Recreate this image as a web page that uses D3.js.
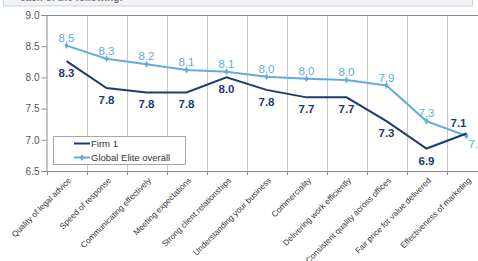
<!DOCTYPE html>
<html><head><meta charset="utf-8">
<script src="https://cdn.jsdelivr.net/npm/d3@7"></script>
<style>body{margin:0;background:#fff;}svg{display:block;font-family:"Liberation Sans",Arial,sans-serif;}</style>
</head><body><svg id="c" width="478" height="261"></svg>
<script>
const categories = ["Quality of legal advice","Speed of response","Communicating effectively","Meeting expectations","Strong client relationships","Understanding your business","Commerciality","Delivering work efficiently","Consistent quality across offices","Fair price for value delivered","Effectiveness of marketing"];
const firm1 = [8.26,7.83,7.76,7.76,8.0,7.8,7.68,7.68,7.3,6.86,7.1];
const globalElite = [8.51,8.3,8.21,8.12,8.09,8.01,7.98,7.96,7.87,7.3,7.06];
const yTicks = [6.5,7.0,7.5,8.0,8.5,9.0];
const seriesNames = ["Firm 1","Global Elite overall"];
const title = "each of the following:";

const svg = d3.select("#c");
const m = {l:46.5, t:15, b:171};
const x = d3.scaleBand().domain(categories).range([m.l, m.l + 40*categories.length]);
const y = d3.scaleLinear().domain([6.5, 9.0]).range([m.b, m.t]);
const fmt = d3.format(".1f");
const cFirm = "#1F3A6E", cGlob = "#64AADC";

// top box
svg.append("rect").attr("x",3.5).attr("y",-10).attr("width",469).attr("height",16)
  .attr("fill","#F2F2F2").attr("stroke","#BDD7EE").attr("stroke-width",1);
svg.append("text").attr("x",20).attr("y",1).attr("font-size",10).attr("font-weight","bold").attr("fill","#777").text(title);

// vertical gridlines
svg.append("g").selectAll("line").data(categories.slice(1)).join("line")
  .attr("x1",d=>Math.round(x(d))+0.5).attr("x2",d=>Math.round(x(d))+0.5)
  .attr("y1",y(9)).attr("y2",y(6.5)).attr("stroke","#C8C8C8").attr("stroke-width",1);
// top border
svg.append("line").attr("x1",m.l).attr("x2",478).attr("y1",y(9)+0.5).attr("y2",y(9)+0.5).attr("stroke","#8C8C8C");

// y axis
const ya = svg.append("g").attr("transform",`translate(${m.l},0)`)
  .call(d3.axisLeft(y).tickValues(yTicks).tickFormat(fmt).tickSize(5).tickPadding(2));
ya.select(".domain").attr("stroke","#8C8C8C");
ya.selectAll(".tick line").attr("stroke","#8C8C8C");
ya.selectAll("text").attr("font-size",10).attr("fill","#555").attr("font-family","Liberation Sans, Arial, sans-serif");

// x axis
const xa = svg.append("g").attr("transform",`translate(0,${y(6.5)})`)
  .call(d3.axisBottom(x).tickSize(0).tickFormat(""));
xa.select(".domain").attr("stroke","#8C8C8C").attr("d",`M${m.l},0.5H478`);
svg.append("g").selectAll("line").data(categories).join("line")
  .attr("x1",d=>Math.round(x(d))+0.5).attr("x2",d=>Math.round(x(d))+0.5)
  .attr("y1",y(6.5)).attr("y2",y(6.5)+4).attr("stroke","#8C8C8C");
svg.append("g").selectAll("text").data(categories).join("text")
  .attr("transform",d=>`translate(${x(d)+x.bandwidth()/2+3},${y(6.5)+8}) rotate(-45)`)
  .attr("text-anchor","end").attr("font-size",8.2).attr("fill","#333").attr("dy","0.35em").text(d=>d);

const cx = d => x(d) + x.bandwidth()/2;
const line = d3.line().x((d,i)=>cx(categories[i])).y(d=>y(d));

svg.append("path").datum(globalElite).attr("d",line).attr("fill","none").attr("stroke",cGlob).attr("stroke-width",2);
svg.append("g").selectAll("path").data(globalElite).join("path")
  .attr("d",d3.symbol(d3.symbolDiamond,14)).attr("transform",(d,i)=>`translate(${cx(categories[i])},${y(d)})`).attr("fill",cGlob);
svg.append("path").datum(firm1).attr("d",line).attr("fill","none").attr("stroke",cFirm).attr("stroke-width",2);

// labels
const last = categories.length-1;
svg.append("g").selectAll("text").data(globalElite).join("text")
  .attr("x",(d,i)=> i===last ? cx(categories[i])+2 : cx(categories[i]))
  .attr("y",(d,i)=> i===last ? y(d)+12 : y(d)-4)
  .attr("text-anchor",(d,i)=> i===last ? "start" : "middle")
  .attr("font-size",11.5).attr("fill",cGlob).text(d=>fmt(d));
svg.append("g").selectAll("text").data(firm1).join("text")
  .attr("x",(d,i)=> i===last ? cx(categories[i])-8 : cx(categories[i]))
  .attr("y",(d,i)=> i===last ? y(d)-7 : y(d)+16)
  .attr("text-anchor","middle").attr("font-weight","bold")
  .attr("font-size",11.5).attr("fill",cFirm).text(d=>fmt(d));

// legend
const lg = svg.append("g");
lg.append("rect").attr("x",53.5).attr("y",136.5).attr("width",132).attr("height",28).attr("fill","#fff").attr("stroke","#A6A6A6");
seriesNames.forEach((n,i)=>{
  const yy = 143.5 + i*14;
  const c = i===0 ? cFirm : cGlob;
  lg.append("line").attr("x1",74).attr("x2",90).attr("y1",yy).attr("y2",yy).attr("stroke",c).attr("stroke-width",2);
  if(i===1) lg.append("path").attr("d",d3.symbol(d3.symbolDiamond,14)).attr("transform",`translate(82,${yy})`).attr("fill",c);
  lg.append("text").attr("x",91).attr("y",yy).attr("dy","0.35em").attr("font-size",9.5).attr("fill","#333").text(n);
});
</script></body></html>
